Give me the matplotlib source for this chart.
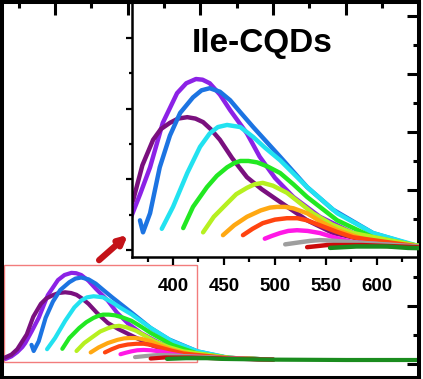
import matplotlib
matplotlib.use('Agg')
from matplotlib import pyplot as plt
from matplotlib.patches import Rectangle
from matplotlib.ticker import MultipleLocator
import numpy as np

plt.rcParams['font.family'] = ['Liberation Sans', 'DejaVu Sans']

# emission spectra (wavelength in nm, intensity in arbitrary units)
violet_x = [332, 340, 348, 355, 359, 368, 377.5, 390, 404, 413, 422.5, 429, 436, 446, 456, 472.5, 485, 500, 518, 544, 576.5, 610, 640, 700]
violet_y = [0.03, 0.10, 0.22, 0.36, 0.47, 0.80, 1.17, 1.80, 2.22, 2.36, 2.42, 2.41, 2.36, 2.20, 1.98, 1.65, 1.32, 1.02, 0.75, 0.47, 0.24, 0.11, 0.06, 0.01]

purple_x = [328, 340, 348, 361, 370, 380.5, 388, 397, 405, 414, 422, 429.5, 437, 446, 458, 472.5, 487, 502, 531.5, 557, 585, 610, 640, 700]
purple_y = [0.04, 0.15, 0.30, 0.71, 1.20, 1.56, 1.71, 1.80, 1.86, 1.88, 1.86, 1.81, 1.71, 1.56, 1.30, 1.03, 0.86, 0.71, 0.42, 0.24, 0.15, 0.10, 0.06, 0.01]

blue_x = [367.6, 370.6, 377.5, 387, 397, 407, 419.6, 428, 436, 446, 456, 466, 478.6, 505, 531.5, 557, 596, 640, 700]
blue_y = [0.42, 0.25, 0.52, 1.17, 1.62, 1.94, 2.16, 2.26, 2.29, 2.24, 2.12, 1.95, 1.74, 1.32, 0.89, 0.57, 0.24, 0.05, 0.01]

cyan_x = [389, 400, 414, 426.5, 436, 444, 453, 466, 478.6, 490, 505, 531.5, 561, 596, 640, 700]
cyan_y = [0.30, 0.61, 1.09, 1.46, 1.65, 1.74, 1.77, 1.74, 1.60, 1.45, 1.27, 0.89, 0.52, 0.24, 0.06, 0.01]

green_x = [410, 419.6, 433.3, 443, 453, 460, 466, 474, 482.5, 493, 505, 518, 531.5, 561, 596, 640, 700]
green_y = [0.31, 0.61, 0.89, 1.05, 1.17, 1.23, 1.26, 1.26, 1.24, 1.18, 1.09, 0.93, 0.75, 0.42, 0.18, 0.06, 0.01]

yellow_x = [429.5, 440, 453, 462, 472.5, 480, 488, 498, 511.7, 537.3, 556, 576.5, 640, 700]
yellow_y = [0.25, 0.47, 0.66, 0.79, 0.88, 0.93, 0.95, 0.91, 0.81, 0.52, 0.36, 0.24, 0.06, 0.01]

orange_x = [449, 460, 472.5, 486, 495, 502, 510, 518, 531.5, 545, 561, 596, 640, 700]
orange_y = [0.21, 0.35, 0.47, 0.56, 0.60, 0.61, 0.61, 0.59, 0.52, 0.40, 0.28, 0.11, 0.05, 0.01]

redorange_x = [468.6, 478, 488, 500, 511.7, 522, 531.5, 544, 560, 576.5, 640, 700]
redorange_y = [0.21, 0.30, 0.38, 0.43, 0.45, 0.45, 0.42, 0.35, 0.26, 0.18, 0.05, 0.01]

magenta_x = [490, 497, 505, 513, 521.6, 532, 544, 560, 576.5, 640, 700]
magenta_y = [0.16, 0.20, 0.24, 0.27, 0.28, 0.27, 0.24, 0.17, 0.11, 0.04, 0.01]

gray_x = [510, 524.7, 535, 544, 558, 576.5, 640, 700]
gray_y = [0.08, 0.11, 0.13, 0.14, 0.13, 0.11, 0.05, 0.01]

darkred_x = [531.5, 551, 585, 640, 700]
darkred_y = [0.04, 0.07, 0.07, 0.04, 0.01]

darkgreen_x = [554, 580, 610, 630, 700, 800, 900]
darkgreen_y = [0.03, 0.05, 0.05, 0.03, 0.01, 0.0, 0.0]

series = [
    (violet_x, violet_y, '#8C22E6'),
    (purple_x, purple_y, '#7A107E'),
    (blue_x, blue_y, '#1C74E2'),
    (cyan_x, cyan_y, '#22E2F0'),
    (green_x, green_y, '#22E822'),
    (yellow_x, yellow_y, '#B6F020'),
    (orange_x, orange_y, '#FFA812'),
    (redorange_x, redorange_y, '#FF4410'),
    (magenta_x, magenta_y, '#FF18E6'),
    (gray_x, gray_y, '#9E9E9E'),
    (darkred_x, darkred_y, '#CC0A0A'),
    (darkgreen_x, darkgreen_y, '#1A8C1E'),
]

inset_ticks = [400, 450, 500, 550, 600]
title = 'Ile-CQDs'

W, H = 423, 379
fig = plt.figure(figsize=(W / 100, H / 100), dpi=100)

# main plot
ax = fig.add_axes([2 / W, 1 - 377.5 / H, 416.5 / W, 375.5 / H])
for x, y, c in series:
    ax.plot(x, y, color=c, lw=3, solid_capstyle='round', solid_joinstyle='round')
ax.set_xlim(327, 900)
ax.set_ylim(-0.486, 9.94)
ax.add_patch(Rectangle((329.8, -0.056), 595.3 - 329.8, 2.64 + 0.056,
                       fill=False, ec='#F27C7C', lw=1, zorder=0.5))
ax.xaxis.set_major_locator(MultipleLocator(100))
ax.xaxis.set_minor_locator(MultipleLocator(50))
ax.set_yticks(np.arange(-0.1, 9.8, 1.61))
ax.set_yticks(np.arange(0.705, 9.8, 1.61), minor=True)
ax.tick_params(which='both', direction='in', top=True, right=True, bottom=False, left=False,
               labeltop=False, labelright=False, labelbottom=False, labelleft=False, width=2.2)
ax.tick_params(which='major', length=9)
ax.tick_params(which='minor', length=4.5)
for s in ax.spines.values():
    s.set_linewidth(2.9)

# inset
axi = fig.add_axes([132 / W, 1 - 257 / H, 286.5 / W, 255 / H], facecolor='none')
for x, y, c in series:
    axi.plot(x, y, color=c, lw=3.2, solid_capstyle='round', solid_joinstyle='round')
axi.set_xlim(359.8, 640.7)
axi.set_ylim(-0.099, 3.51)
axi.set_xticks(inset_ticks)
axi.xaxis.set_minor_locator(MultipleLocator(25))
axi.yaxis.set_major_locator(MultipleLocator(1))
axi.yaxis.set_minor_locator(MultipleLocator(0.5))
axi.set_yticklabels([])
axi.tick_params(which='both', direction='out', width=1.6)
axi.tick_params(axis='x', which='major', length=6, pad=9, labelsize=13.5)
axi.tick_params(axis='x', which='minor', length=3.5)
axi.tick_params(axis='y', which='major', length=4.5)
axi.tick_params(axis='y', which='minor', length=2.5)
for lab in axi.get_xticklabels():
    lab.set_fontweight('bold')
axi.spines['top'].set_visible(False)
axi.spines['right'].set_visible(False)
axi.spines['left'].set_linewidth(1.8)
axi.spines['bottom'].set_linewidth(1.8)
axi.text(0.454, 0.804, title, transform=axi.transAxes, ha='center', va='baseline',
         fontsize=24, fontweight='bold')

# arrow pointing at the inset
fig.add_artist(matplotlib.patches.FancyArrowPatch(
    (97 / W, 1 - 262 / H), (130 / W, 1 - 233 / H), transform=fig.transFigure,
    arrowstyle='-|>', mutation_scale=12, lw=4.5, color='#C41218'))

fig.savefig('out.png', dpi=100)
